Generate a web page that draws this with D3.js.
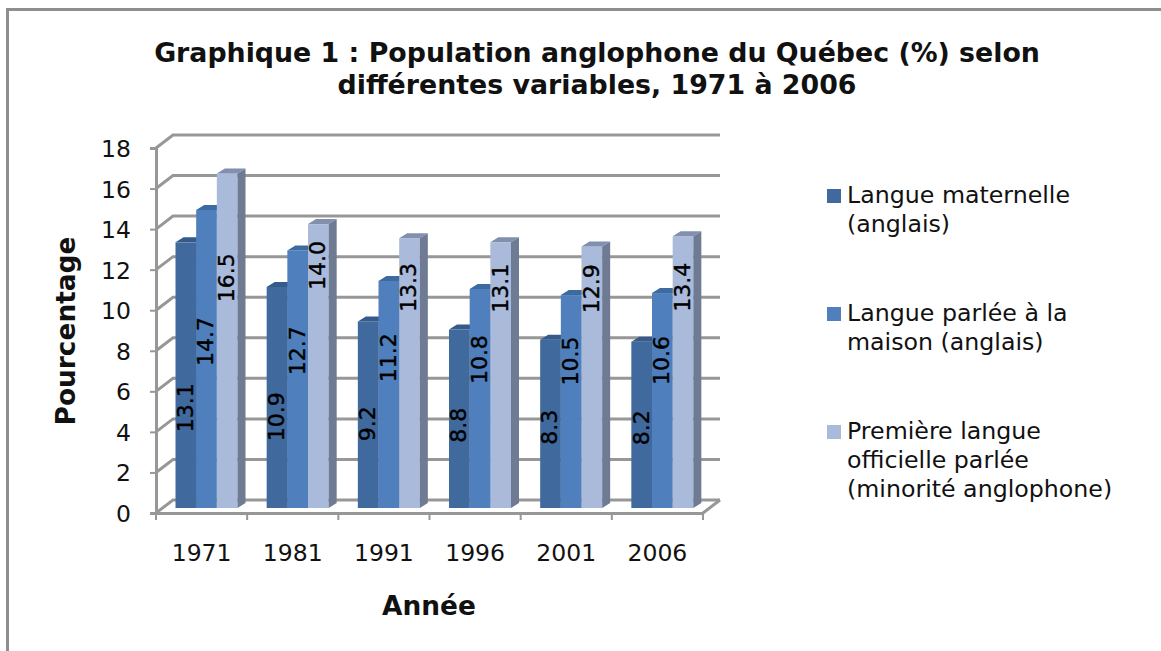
<!DOCTYPE html>
<html>
<head>
<meta charset="utf-8">
<script src="https://cdn.jsdelivr.net/npm/d3@7"></script>
<style>
  body { margin: 0; background: #fff; }
  svg { display: block; font-family: "DejaVu Sans", sans-serif; fill: #000; }
  svg text { font-family: "DejaVu Sans", sans-serif; }
</style>
</head>
<body>
<svg class="chart" width="1161" height="651"></svg>
<script>
const years = ["1971", "1981", "1991", "1996", "2001", "2006"];
const maternelle = [13.1, 10.9, 9.2, 8.8, 8.3, 8.2];
const maison = [14.7, 12.7, 11.2, 10.8, 10.5, 10.6];
const premiere = [16.5, 14.0, 13.3, 13.1, 12.9, 13.4];
const yTicks = [0, 2, 4, 6, 8, 10, 12, 14, 16, 18];
const legendLines = [
    ["Langue maternelle", "(anglais)"],
    ["Langue parlée à la", "maison (anglais)"],
    ["Première langue", "officielle parlée", "(minorité anglophone)"]
];
const titleLines = ["Graphique 1 : Population anglophone du Québec (%) selon", "différentes variables, 1971 à 2006"];

const series = [maternelle, maison, premiere];
const fronts = ["#406a9e", "#4f80bd", "#aabadb"];
const tops = ["#355b8c", "#3d6a9f", "#8090ae"];
const sides = ["#33557f", "#3f6694", "#6e7b92"];
const gridColor = "#979797";

const svg = d3.select("svg.chart");

//picture frame, only top and left show
svg.append("path").attr("d", "M7.5,651V9.5H1161").attr("fill", "none").attr("stroke", "#8e8e8e").attr("stroke-width", 3);

//scales
const x = d3.scaleBand().domain(years).range([156, 703]);
const y = d3.scaleLinear().domain([0, 18]).range([513, 148]);
const inner = d3.scaleBand().domain(d3.range(3)).range([19.5, 81.5]);
const wallX = 17, wallY = -13;   // 3d depth of the back wall
const barY = -5, barDepthX = 8, barDepthY = -5;   // bars sit a bit back on the floor

//back wall gridlines with their slanted part
const grid = svg.append("g").attr("fill", "none").attr("stroke", gridColor).attr("stroke-width", 3);
grid.selectAll("path")
    .data(yTicks)
    .enter()
    .append("path")
    .attr("d", d => "M" + x.range()[0] + "," + y(d) + "l" + wallX + "," + wallY + "H" + (x.range()[1] + wallX));
grid.append("path")
    .attr("d", "M" + x.range()[1] + "," + y(0) + "l" + wallX + "," + wallY);

//y axis
const yAxis = svg.append("g")
    .attr("transform", "translate(" + x.range()[0] + ",0)")
    .call(d3.axisLeft(y).tickValues(yTicks).tickSize(6).tickPadding(19));
yAxis.attr("font-family", null);
yAxis.selectAll("text").style("font-size", "23.5px").attr("fill", "#111").attr("dy", "0.36em");

//x axis, ticks go on the band edges so they are added by hand
const xAxis = svg.append("g")
    .attr("transform", "translate(0," + y(0) + ")")
    .call(d3.axisBottom(x).tickSize(0).tickPadding(31));
xAxis.attr("font-family", null);
xAxis.selectAll("text").style("font-size", "23.5px").attr("fill", "#111");
xAxis.selectAll(".edge")
    .data(years.concat("end"))
    .enter()
    .append("line")
    .attr("class", "edge")
    .attr("x1", (d, i) => x.range()[0] + i * x.step())
    .attr("x2", (d, i) => x.range()[0] + i * x.step())
    .attr("y2", 7);
svg.selectAll(".domain, .tick line, .edge").attr("stroke", gridColor).attr("stroke-width", 3);
xAxis.selectAll(".edge").attr("stroke-width", 2);
yAxis.selectAll(".tick line").attr("stroke-width", 2);

//bars
const bars = [];
years.forEach((year, i) => series.forEach((values, s) => bars.push({year: year, s: s, value: values[i]})));
const left = d => x(d.year) + inner(d.s);
const top_ = d => y(d.value) + barY;
const bottom = y(0) + barY;
const w = inner.bandwidth();

const barG = svg.selectAll(".bar").data(bars).enter().append("g").attr("class", "bar");
barG.append("rect")
    .attr("x", left).attr("y", top_).attr("width", w).attr("height", d => bottom - top_(d))
    .attr("fill", d => fronts[d.s]);
barG.append("path")
    .attr("fill", d => tops[d.s])
    .attr("d", d => "M" + left(d) + "," + top_(d) + "l" + barDepthX + "," + barDepthY + "h" + w + "l" + (-barDepthX) + "," + (-barDepthY) + "z");
barG.append("path")
    .attr("fill", d => sides[d.s])
    .attr("d", d => "M" + (left(d) + w) + "," + top_(d) + "l" + barDepthX + "," + barDepthY + "V" + (bottom + barDepthY) + "l" + (-barDepthX) + "," + (-barDepthY) + "z");

//value labels, rotated. height above the base follows the bar height a little, per series
const labelBase = [47, 98, 180], labelSlope = [0.2, 0.23, 0.15];
const labelY = d => {
    let h = bottom - top_(d);
    let nudge = (d.year === "1981" && d.s === 2) ? 20 : 0;   // this one sits higher in the source
    return bottom - (labelBase[d.s] + labelSlope[d.s] * h) - nudge;
};
svg.selectAll(".value")
    .data(bars)
    .enter()
    .append("text")
    .attr("class", "value")
    .attr("transform", d => "translate(" + (left(d) + w / 2 - 1) + "," + labelY(d) + ") rotate(-90)")
    .attr("text-anchor", "middle")
    .attr("dy", "0.36em")
    .attr("stroke", "#000")
    .attr("stroke-width", 0.4)
    .style("font-size", "22px")
    .text(d => d.value.toFixed(1));

//titles
svg.selectAll(".title")
    .data(titleLines)
    .enter()
    .append("text")
    .attr("class", "title")
    .attr("x", 597)
    .attr("y", (d, i) => 62 + i * 32)
    .attr("text-anchor", "middle")
    .style("font-size", "26.8px").style("font-weight", "bold")
    .attr("fill", "#111")
    .text(d => d);
svg.append("text")
    .attr("transform", "translate(75,331) rotate(-90)")
    .attr("text-anchor", "middle")
    .style("font-size", "26.4px").style("font-weight", "bold")
    .attr("fill", "#111")
    .text("Pourcentage");
svg.append("text")
    .attr("x", 429).attr("y", 615)
    .attr("text-anchor", "middle")
    .style("font-size", "26.4px").style("font-weight", "bold")
    .attr("fill", "#111")
    .text("Année");

//legend
const legendTop = [189, 307, 425];
const legend = svg.selectAll(".legend")
    .data(legendLines)
    .enter()
    .append("g")
    .attr("class", "legend")
    .attr("transform", (d, i) => "translate(827," + legendTop[i] + ")");
legend.append("rect")
    .attr("width", 14).attr("height", 14)
    .attr("fill", (d, i) => fronts[i]);
legend.selectAll("text")
    .data(d => d)
    .enter()
    .append("text")
    .attr("x", 20)
    .attr("y", (d, i) => 14 + i * 29)
    .style("font-size", "23.7px")
    .attr("fill", "#111")
    .text(d => d);
</script>
</body>
</html>
